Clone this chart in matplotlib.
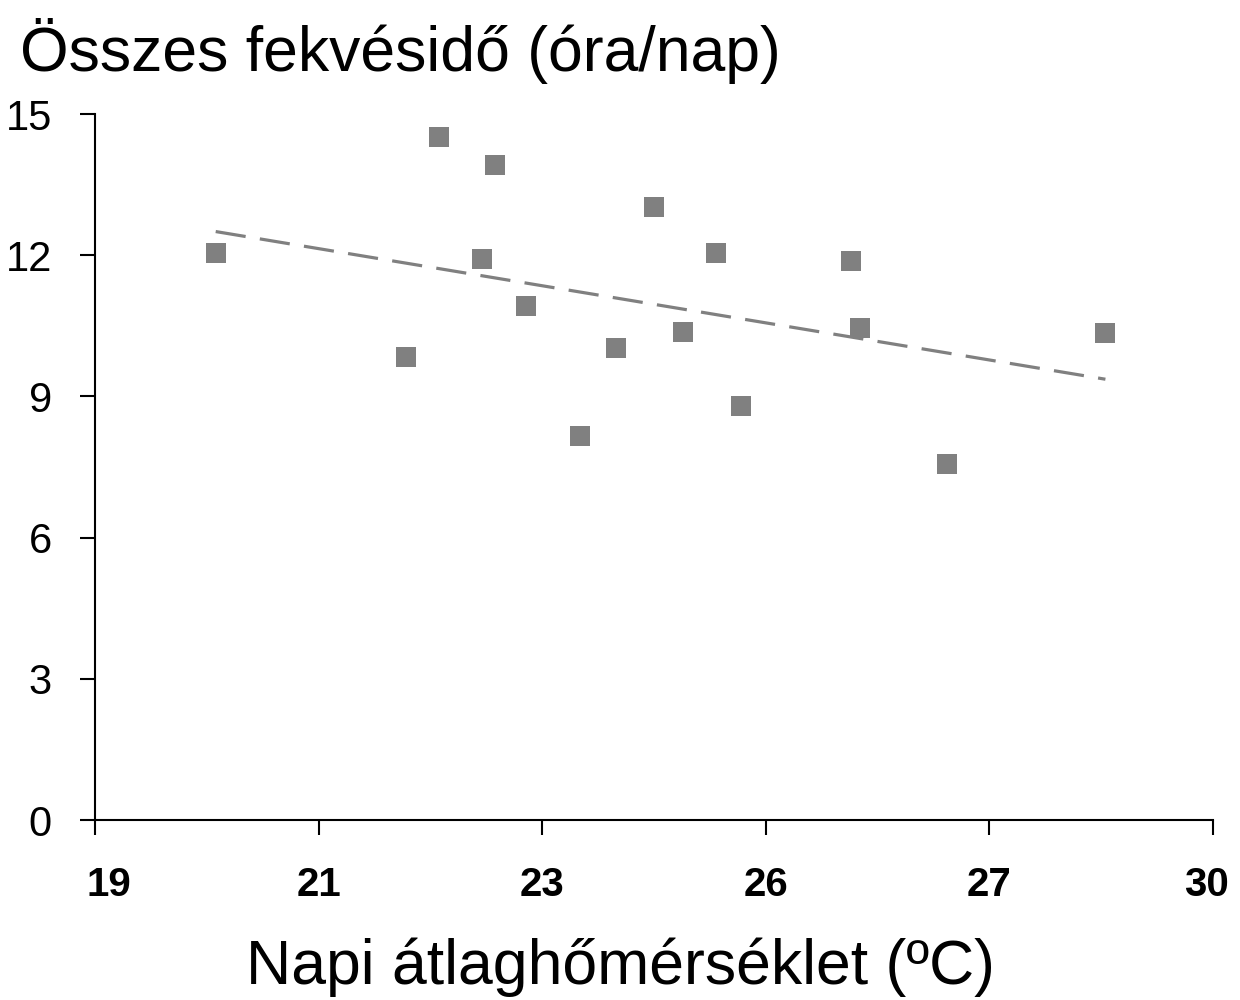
import matplotlib
matplotlib.use('Agg')
import matplotlib.pyplot as plt
import matplotlib.transforms as mtransforms
import numpy as np

plt.rcParams['font.family'] = ['Liberation Sans', 'DejaVu Sans']

# category positions on the x axis (evenly spaced labels)
tick_labels = ['19', '21', '23', '26', '27', '30']
y_ticks = [0, 3, 6, 9, 12, 15]

# daily mean temperature (axis position units) and lying time (h/day)
temp_pos = [0.54, 1.39, 1.54, 1.73, 1.79, 1.93, 2.17, 2.33,
            2.50, 2.63, 2.78, 2.89, 3.38, 3.42, 3.81, 4.52]
lying_h = [12.05, 9.84, 14.51, 11.92, 13.92, 10.92, 8.16, 10.03,
           13.02, 10.37, 12.05, 8.80, 11.88, 10.45, 7.56, 10.35]

grey = '#808080'

fig = plt.figure(figsize=(12.4, 10), dpi=100)
ax = fig.add_axes([0.0766, 0.18, 0.9014, 0.706])

ax.plot(temp_pos, lying_h, linestyle='none', marker='s', markersize=14.5,
        color=grey, markeredgewidth=0)

# linear trend
k, b = np.polyfit(temp_pos, lying_h, 1)
xs = np.array([min(temp_pos), max(temp_pos)])
ax.plot(xs, k * xs + b, color=grey, linewidth=2.3, dashes=(9.5, 4.5))

ax.set_xlim(0, 5)
ax.set_ylim(0, 15)
ax.set_xticks(range(len(tick_labels)))
ax.set_xticklabels(tick_labels, fontsize=29, fontweight='bold')
ax.set_yticks(y_ticks)
ax.set_yticklabels([str(v) for v in y_ticks], fontsize=30)
ax.tick_params(axis='x', length=11, width=1.5, pad=22)
ax.tick_params(axis='y', length=11, width=1.5, pad=20)

# first label sits a bit inside
lbl = ax.get_xticklabels()[0]
lbl.set_transform(lbl.get_transform() + mtransforms.ScaledTranslation(0.14, 0, fig.dpi_scale_trans))
lbl = ax.get_xticklabels()[-1]
lbl.set_transform(lbl.get_transform() + mtransforms.ScaledTranslation(-0.06, 0, fig.dpi_scale_trans))

for s in ['top', 'right']:
    ax.spines[s].set_visible(False)
for s in ['left', 'bottom']:
    ax.spines[s].set_linewidth(1.5)

fig.text(0.016, 0.929, 'Összes fekvésidő (óra/nap)', fontsize=45, ha='left', va='baseline')
fig.text(0.5, 0.016, 'Napi átlaghőmérséklet (ºC)', fontsize=45, ha='center', va='baseline')

fig.savefig('out.png', dpi=100)
